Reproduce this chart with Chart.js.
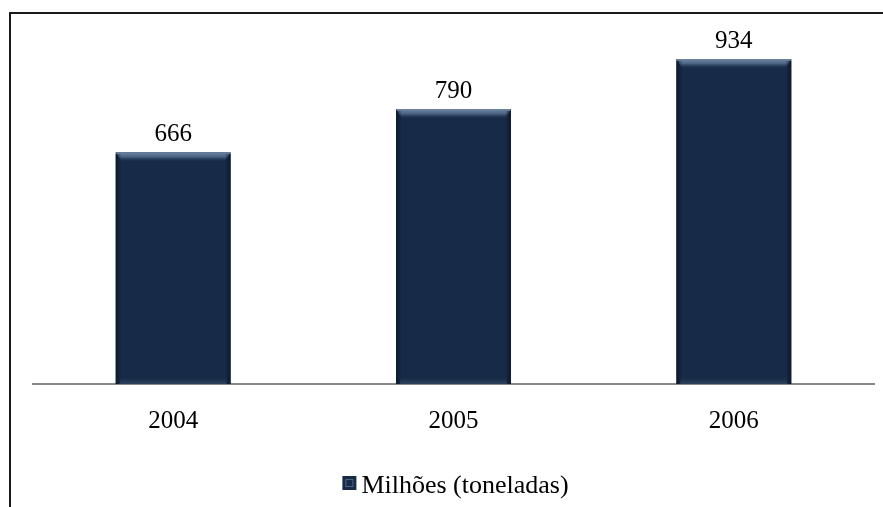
<!DOCTYPE html>
<html>
<head>
<meta charset="utf-8">
<script src="https://cdn.jsdelivr.net/npm/chart.js@4/dist/chart.umd.min.js"></script>
<style>
  html, body { margin: 0; padding: 0; background: #fff; }
  #wrap { width: 883px; height: 507px; }
</style>
</head>
<body>
<div id="wrap"><canvas id="grafico"></canvas></div>
<script>
// dati
var anos = ["2004", "2005", "2006"];
var toneladas = [666, 790, 934];
var nomeSerie = "Milhões (toneladas)";
var fonte = "'Liberation Serif', 'Times New Roman', serif";
var corBarra = "#172b48";

// moldura: só linha à esquerda e em cima
var moldura = {
    id: "moldura",
    beforeDraw: function (chart) {
        var ctx = chart.ctx;
        ctx.save();
        ctx.fillStyle = "#fff";
        ctx.fillRect(0, 0, chart.width, chart.height);
        ctx.strokeStyle = "#1a1a1a";
        ctx.lineWidth = 2;
        ctx.beginPath();
        ctx.moveTo(10, chart.height);
        ctx.lineTo(10, 13);
        ctx.lineTo(chart.width, 13);
        ctx.stroke();
        ctx.restore();
    }
};

// chanfro das barras + valores por cima
var barras = {
    id: "barras",
    afterDatasetsDraw: function (chart) {
        var ctx = chart.ctx;
        var meta = chart.getDatasetMeta(0);
        ctx.save();
        meta.data.forEach(function (bar, i) {
            var l = bar.x - bar.width / 2, r = bar.x + bar.width / 2;
            var t = bar.y, b = bar.base;
            // topo claro
            var g = ctx.createLinearGradient(0, t, 0, t + 10);
            g.addColorStop(0, "#6f86a3");
            g.addColorStop(0.45, "#4d6585");
            g.addColorStop(1, "rgba(23,43,72,0)");
            ctx.fillStyle = g;
            ctx.beginPath();
            ctx.moveTo(l, t);
            ctx.lineTo(r, t);
            ctx.lineTo(r - 6, t + 10);
            ctx.lineTo(l + 6, t + 10);
            ctx.closePath();
            ctx.fill();
            // laterais mais escuras
            var gl = ctx.createLinearGradient(l, 0, l + 6, 0);
            gl.addColorStop(0, "rgba(8,20,38,0.8)");
            gl.addColorStop(1, "rgba(8,20,38,0)");
            ctx.fillStyle = gl;
            ctx.fillRect(l, t + 2, 6, b - t - 2);
            var gr = ctx.createLinearGradient(r, 0, r - 6, 0);
            gr.addColorStop(0, "rgba(8,20,38,0.8)");
            gr.addColorStop(1, "rgba(8,20,38,0)");
            ctx.fillStyle = gr;
            ctx.fillRect(r - 6, t + 2, 6, b - t - 2);
            // base ligeiramente clara
            var gb = ctx.createLinearGradient(0, b, 0, b - 6);
            gb.addColorStop(0, "rgba(60,80,105,0.6)");
            gb.addColorStop(1, "rgba(60,80,105,0)");
            ctx.fillStyle = gb;
            ctx.fillRect(l + 4, b - 6, bar.width - 8, 6);

            // valor
            ctx.fillStyle = "#000";
            ctx.font = "25px " + fonte;
            ctx.textAlign = "center";
            ctx.textBaseline = "alphabetic";
            ctx.fillText(String(toneladas[i]), bar.x, t - 11);
        });
        ctx.restore();
    }
};

// legenda desenhada à mão (quadrado colado ao texto)
var legenda = {
    id: "legenda",
    afterDraw: function (chart) {
        var ctx = chart.ctx;
        var area = chart.chartArea;
        ctx.save();
        ctx.font = "26px " + fonte;
        var w = ctx.measureText(nomeSerie).width;
        var caixa = 14, gap = 5;
        var x0 = (area.left + area.right) / 2 + 2 - (caixa + gap + w) / 2;
        var yb = 493;
        ctx.fillStyle = corBarra;
        ctx.fillRect(x0, yb - 17, caixa, caixa);
        ctx.strokeStyle = "#4f6580";
        ctx.lineWidth = 1;
        ctx.strokeRect(x0 + 3.5, yb - 13.5, caixa - 7, caixa - 7);
        ctx.fillStyle = "#000";
        ctx.textAlign = "left";
        ctx.textBaseline = "alphabetic";
        ctx.fillText(nomeSerie, x0 + caixa + gap, yb);
        ctx.restore();
    }
};

var grafico = new Chart(document.getElementById("grafico"), {
    type: "bar",
    data: {
        labels: anos,
        datasets: [{
            label: nomeSerie,
            data: toneladas,
            backgroundColor: corBarra,
            borderWidth: 0,
            categoryPercentage: 1,
            barPercentage: 0.41
        }]
    },
    options: {
        responsive: true,
        maintainAspectRatio: false,
        animation: false,
        devicePixelRatio: 1,
        layout: { padding: { left: 33, right: 9, top: 36, bottom: 0 } },
        scales: {
            x: {
                grid: { display: false },
                border: { display: true, color: "#888", width: 2 },
                ticks: { color: "#000", font: { family: fonte, size: 25 }, padding: 14 },
                afterFit: function (escala) { escala.height = 123; }
            },
            y: {
                display: false,
                min: 0,
                max: 1000
            }
        },
        plugins: {
            legend: { display: false },
            tooltip: { enabled: false }
        }
    },
    plugins: [moldura, barras, legenda]
});
</script>
</body>
</html>
